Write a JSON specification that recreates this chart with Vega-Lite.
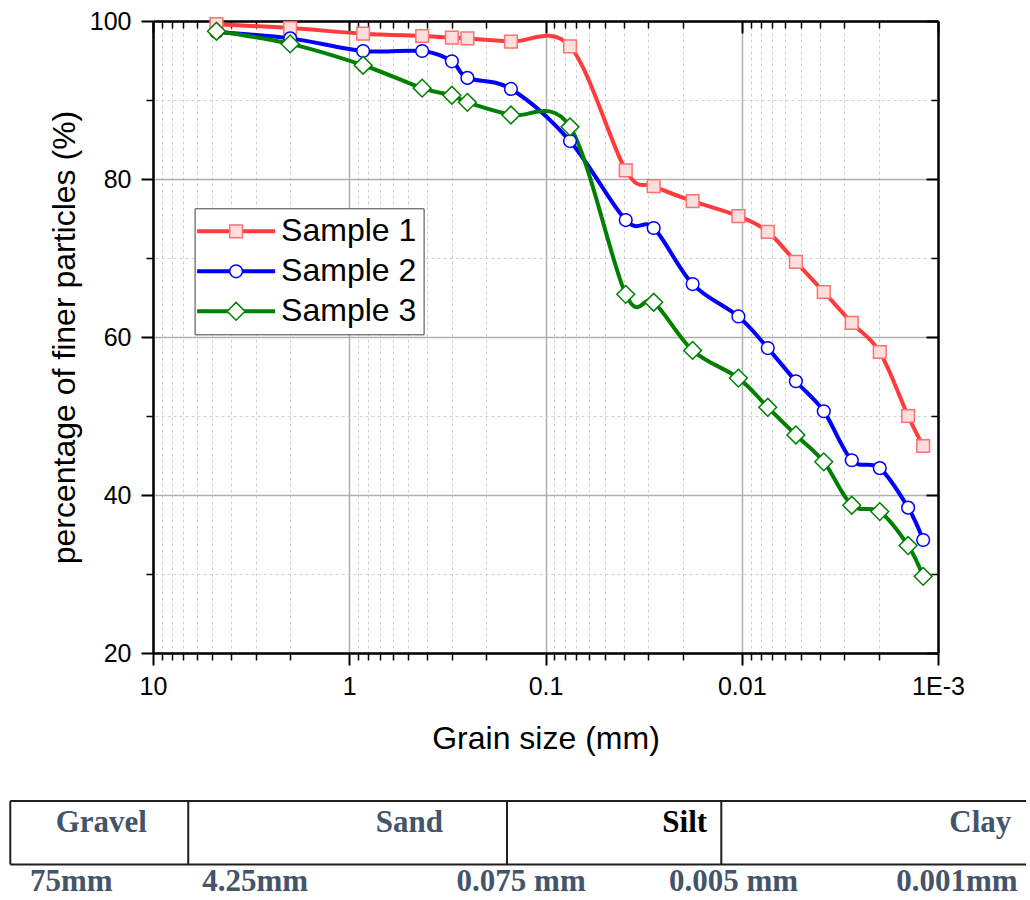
{
  "$schema": "https://vega.github.io/schema/vega-lite/v6.json",
  "background": "white",
  "padding": {"left": 9, "top": 9, "right": 0, "bottom": 0},
  "bounds": "flush",
  "spacing": 148,
  "config": {
    "font": "Liberation Sans",
    "view": {"stroke": null},
    "axis": {"labelColor": "black", "titleColor": "black", "tickColor": "black", "domainColor": "black", "titleFontWeight": "normal", "labelFlush": false, "labelOverlap": false, "labelFont": "Liberation Sans", "titleFont": "Liberation Sans"}
  },
  "datasets": {
    "psd": [
      {"sample": "Sample 1", "d": 4.75, "p": 99.6},
      {"sample": "Sample 1", "d": 2.0, "p": 99.1},
      {"sample": "Sample 1", "d": 0.85, "p": 98.4},
      {"sample": "Sample 1", "d": 0.425, "p": 98.1},
      {"sample": "Sample 1", "d": 0.3, "p": 97.9},
      {"sample": "Sample 1", "d": 0.25, "p": 97.8},
      {"sample": "Sample 1", "d": 0.15, "p": 97.4},
      {"sample": "Sample 1", "d": 0.075, "p": 96.8},
      {"sample": "Sample 1", "d": 0.039, "p": 81.1},
      {"sample": "Sample 1", "d": 0.0281, "p": 79.1},
      {"sample": "Sample 1", "d": 0.0178, "p": 77.2},
      {"sample": "Sample 1", "d": 0.0104, "p": 75.3},
      {"sample": "Sample 1", "d": 0.00737, "p": 73.3},
      {"sample": "Sample 1", "d": 0.0053, "p": 69.5},
      {"sample": "Sample 1", "d": 0.00382, "p": 65.7},
      {"sample": "Sample 1", "d": 0.00275, "p": 61.8},
      {"sample": "Sample 1", "d": 0.00198, "p": 58.1},
      {"sample": "Sample 1", "d": 0.00142, "p": 50.0},
      {"sample": "Sample 1", "d": 0.00119, "p": 46.2},
      {"sample": "Sample 2", "d": 4.75, "p": 98.6},
      {"sample": "Sample 2", "d": 2.0, "p": 97.8},
      {"sample": "Sample 2", "d": 0.85, "p": 96.2},
      {"sample": "Sample 2", "d": 0.425, "p": 96.2},
      {"sample": "Sample 2", "d": 0.3, "p": 94.9},
      {"sample": "Sample 2", "d": 0.25, "p": 92.8},
      {"sample": "Sample 2", "d": 0.15, "p": 91.4},
      {"sample": "Sample 2", "d": 0.075, "p": 84.8},
      {"sample": "Sample 2", "d": 0.039, "p": 74.8},
      {"sample": "Sample 2", "d": 0.0281, "p": 73.8},
      {"sample": "Sample 2", "d": 0.0178, "p": 66.7},
      {"sample": "Sample 2", "d": 0.0104, "p": 62.6},
      {"sample": "Sample 2", "d": 0.00737, "p": 58.6},
      {"sample": "Sample 2", "d": 0.0053, "p": 54.4},
      {"sample": "Sample 2", "d": 0.00382, "p": 50.6},
      {"sample": "Sample 2", "d": 0.00275, "p": 44.4},
      {"sample": "Sample 2", "d": 0.00198, "p": 43.4},
      {"sample": "Sample 2", "d": 0.00142, "p": 38.4},
      {"sample": "Sample 2", "d": 0.00119, "p": 34.3},
      {"sample": "Sample 3", "d": 4.75, "p": 98.7},
      {"sample": "Sample 3", "d": 2.0, "p": 97.1},
      {"sample": "Sample 3", "d": 0.85, "p": 94.4},
      {"sample": "Sample 3", "d": 0.425, "p": 91.5},
      {"sample": "Sample 3", "d": 0.3, "p": 90.6},
      {"sample": "Sample 3", "d": 0.25, "p": 89.7},
      {"sample": "Sample 3", "d": 0.15, "p": 88.1},
      {"sample": "Sample 3", "d": 0.075, "p": 86.6},
      {"sample": "Sample 3", "d": 0.039, "p": 65.4},
      {"sample": "Sample 3", "d": 0.0281, "p": 64.4},
      {"sample": "Sample 3", "d": 0.0178, "p": 58.3},
      {"sample": "Sample 3", "d": 0.0104, "p": 54.8},
      {"sample": "Sample 3", "d": 0.00737, "p": 51.1},
      {"sample": "Sample 3", "d": 0.0053, "p": 47.6},
      {"sample": "Sample 3", "d": 0.00382, "p": 44.2},
      {"sample": "Sample 3", "d": 0.00275, "p": 38.7},
      {"sample": "Sample 3", "d": 0.00198, "p": 37.9},
      {"sample": "Sample 3", "d": 0.00142, "p": 33.6},
      {"sample": "Sample 3", "d": 0.00119, "p": 29.7}
    ],
    "borders": [
      {"x0": 0, "x1": 100, "y0": 0, "y1": 0},
      {"x0": 0, "x1": 100, "y0": 1, "y1": 1},
      {"x0": 0, "x1": 0, "y0": 0, "y1": 1},
      {"x0": 17.52, "x1": 17.52, "y0": 0, "y1": 1},
      {"x0": 48.9, "x1": 48.9, "y0": 0, "y1": 1},
      {"x0": 70.0, "x1": 70.0, "y0": 0, "y1": 1}
    ],
    "classes": [
      {"label": "Gravel", "pos": 8.96},
      {"label": "Sand", "pos": 39.3},
      {"label": "Silt", "pos": 66.4},
      {"label": "Clay", "pos": 95.5}
    ],
    "limits": [
      {"label": "75mm", "pos": 6.0},
      {"label": "4.25mm", "pos": 24.1},
      {"label": "0.075 mm", "pos": 50.3},
      {"label": "0.005 mm", "pos": 71.2},
      {"label": "0.001mm", "pos": 93.2}
    ]
  },
  "vconcat": [
    {
      "width": 785,
      "height": 632,
      "data": {"name": "psd"},
      "resolve": {"axis": {"x": "independent", "y": "independent"}},
      "layer": [
        {
          "mark": {"type": "point", "opacity": 0},
          "encoding": {
            "x": {"field": "d", "type": "quantitative", "scale": {"type": "log", "domain": [0.001, 10], "reverse": true, "nice": false},
              "axis": {"orient": "bottom", "values": [9,8,7,6,5,4,3,2,0.9,0.8,0.7,0.6,0.5,0.4,0.3,0.2,0.09,0.08,0.07,0.06,0.05,0.04,0.03,0.02,0.009,0.008,0.007,0.006,0.005,0.004,0.003,0.002], "labels": false, "domain": false, "tickSize": 7, "tickWidth": 1.5, "grid": true, "gridColor": "#d0d0d0", "gridDash": [3, 3], "gridWidth": 1, "title": null}},
            "y": {"field": "p", "type": "quantitative", "scale": {"domain": [20, 100], "nice": false, "zero": false},
              "axis": {"orient": "left", "values": [30, 50, 70, 90], "labels": false, "domain": false, "tickSize": 7, "tickWidth": 1.5, "grid": true, "gridColor": "#d0d0d0", "gridDash": [3, 3], "gridWidth": 1, "title": null}}
          }
        },
        {
          "mark": {"type": "point", "opacity": 0},
          "encoding": {
            "x": {"field": "d", "type": "quantitative", "scale": {"type": "log", "domain": [0.001, 10], "reverse": true, "nice": false},
              "axis": {"orient": "top", "values": [9,8,7,6,5,4,3,2,0.9,0.8,0.7,0.6,0.5,0.4,0.3,0.2,0.09,0.08,0.07,0.06,0.05,0.04,0.03,0.02,0.009,0.008,0.007,0.006,0.005,0.004,0.003,0.002], "labels": false, "domain": false, "tickSize": -7, "tickWidth": 1.5, "grid": false, "title": null}},
            "y": {"field": "p", "type": "quantitative", "scale": {"domain": [20, 100], "nice": false, "zero": false},
              "axis": {"orient": "right", "values": [30, 50, 70, 90], "labels": false, "domain": false, "tickSize": -7, "tickWidth": 1.5, "grid": false, "title": null}}
          }
        },
        {
          "mark": {"type": "line", "interpolate": "cardinal", "strokeWidth": 4},
          "encoding": {
            "x": {"field": "d", "type": "quantitative", "scale": {"type": "log", "domain": [0.001, 10], "reverse": true, "nice": false},
              "axis": {"orient": "bottom", "values": [10, 1, 0.1, 0.01, 0.001], "labelExpr": "datum.value >= 5 ? '10' : datum.value >= 0.5 ? '1' : datum.value >= 0.05 ? '0.1' : datum.value >= 0.005 ? '0.01' : '1E-3'", "labelFontSize": 25, "labelPadding": 9, "tickSize": 12, "tickWidth": 2, "domainWidth": 2.5, "grid": true, "gridColor": "#b0b0b0", "gridWidth": 1.5, "title": "Grain size (mm)", "titleFontSize": 32, "titlePadding": 24}},
            "y": {"field": "p", "type": "quantitative", "scale": {"domain": [20, 100], "nice": false, "zero": false},
              "axis": {"orient": "left", "values": [20, 40, 60, 80, 100], "labelFontSize": 25, "labelPadding": 10, "tickSize": 12, "tickWidth": 2, "domainWidth": 2.5, "grid": true, "gridColor": "#b0b0b0", "gridWidth": 1.5, "title": "percentage of finer particles (%)", "titleFontSize": 32, "titlePadding": 8}},
            "color": {"field": "sample", "type": "nominal",
              "scale": {"domain": ["Sample 1", "Sample 2", "Sample 3"], "range": ["#ff3b3b", "#0000ff", "#008000"]},
              "legend": {"orient": "none", "legendX": 41.6, "legendY": 187.3, "title": null, "symbolType": "M-3,0H3", "symbolSize": 676, "symbolStrokeWidth": 4, "symbolOffset": 18.5, "labelOffset": 29, "labelFontSize": 32, "labelColor": "black", "labelFont": "Liberation Sans", "padding": 7, "rowPadding": 8, "strokeColor": "#404040", "fillColor": "white", "zindex": 1}}
          }
        },
        {
          "mark": {"type": "point", "filled": true, "size": 161, "strokeWidth": 1.5, "opacity": 1},
          "encoding": {
            "x": {"field": "d", "type": "quantitative", "scale": {"type": "log", "domain": [0.001, 10], "reverse": true, "nice": false},
              "axis": {"orient": "top", "values": [10, 1, 0.1, 0.01, 0.001], "labels": false, "tickSize": -12, "tickWidth": 2, "domainWidth": 2.5, "grid": false, "title": null}},
            "y": {"field": "p", "type": "quantitative", "scale": {"domain": [20, 100], "nice": false, "zero": false},
              "axis": {"orient": "right", "values": [20, 40, 60, 80, 100], "labels": false, "tickSize": -12, "tickWidth": 2, "domainWidth": 2.5, "grid": false, "title": null}},
            "shape": {"field": "sample", "type": "nominal",
              "scale": {"range": ["square", "circle", "M-1.4,0L0,-1.4L1.4,0L0,1.4Z"]},
              "legend": {"orient": "none", "legendX": 41.6, "legendY": 187.3, "title": null, "symbolSize": 161, "symbolStrokeWidth": 1.5, "symbolOffset": 18.5, "labelOffset": 29, "labelFontSize": 32, "labelOpacity": 0, "labelFont": "Liberation Sans", "padding": 7, "rowPadding": 8, "zindex": 2}},
            "stroke": {"field": "sample", "type": "nominal",
              "scale": {"range": ["#ff7070", "#0000ff", "#008000"]},
              "legend": {"orient": "none", "legendX": 41.6, "legendY": 187.3, "title": null, "symbolSize": 161, "symbolStrokeWidth": 1.5, "symbolOffset": 18.5, "labelOffset": 29, "labelFontSize": 32, "labelOpacity": 0, "labelFont": "Liberation Sans", "padding": 7, "rowPadding": 8, "zindex": 2}},
            "fill": {"field": "sample", "type": "nominal",
              "scale": {"range": ["#ffdede", "#ffffff", "#ffffff"]},
              "legend": {"orient": "none", "legendX": 41.6, "legendY": 187.3, "title": null, "symbolSize": 161, "symbolStrokeWidth": 1.5, "symbolOffset": 18.5, "labelOffset": 29, "labelFontSize": 32, "labelOpacity": 0, "labelFont": "Liberation Sans", "padding": 7, "rowPadding": 8, "zindex": 2}}
          }
        }
      ]
    },
    {
      "width": 873,
      "height": 90,
      "layer": [
        {
          "data": {"name": "borders"},
          "mark": {"type": "rule", "color": "#1f1f1f", "strokeWidth": 2},
          "encoding": {
            "x": {"field": "x0", "type": "quantitative", "scale": {"domain": [14.05, 100], "nice": false, "zero": false}, "axis": null},
            "x2": {"field": "x1"},
            "y": {"field": "y0", "type": "quantitative", "scale": {"domain": [0, 1.42], "reverse": true, "nice": false, "zero": false}, "axis": null},
            "y2": {"field": "y1"}
          }
        },
        {
          "data": {"name": "classes"},
          "mark": {"type": "text", "font": "Liberation Serif", "fontWeight": "bold", "fontSize": 31, "baseline": "middle", "align": "center"},
          "encoding": {
            "x": {"field": "pos", "type": "quantitative", "scale": {"domain": [14.05, 100], "nice": false, "zero": false}, "axis": null},
            "y": {"datum": 0.344, "type": "quantitative", "scale": {"domain": [0, 1.42], "reverse": true, "nice": false, "zero": false}, "axis": null},
            "text": {"field": "label"},
            "color": {"condition": {"test": "datum.label === 'Silt'", "value": "#000000"}, "value": "#44546a"}
          }
        },
        {
          "data": {"name": "limits"},
          "mark": {"type": "text", "font": "Liberation Serif", "fontWeight": "bold", "fontSize": 31, "baseline": "middle", "align": "center", "color": "#44546a"},
          "encoding": {
            "x": {"field": "pos", "type": "quantitative", "scale": {"domain": [14.05, 100], "nice": false, "zero": false}, "axis": null},
            "y": {"datum": 1.276, "type": "quantitative", "scale": {"domain": [0, 1.42], "reverse": true, "nice": false, "zero": false}, "axis": null},
            "text": {"field": "label"}
          }
        }
      ]
    }
  ]
}
